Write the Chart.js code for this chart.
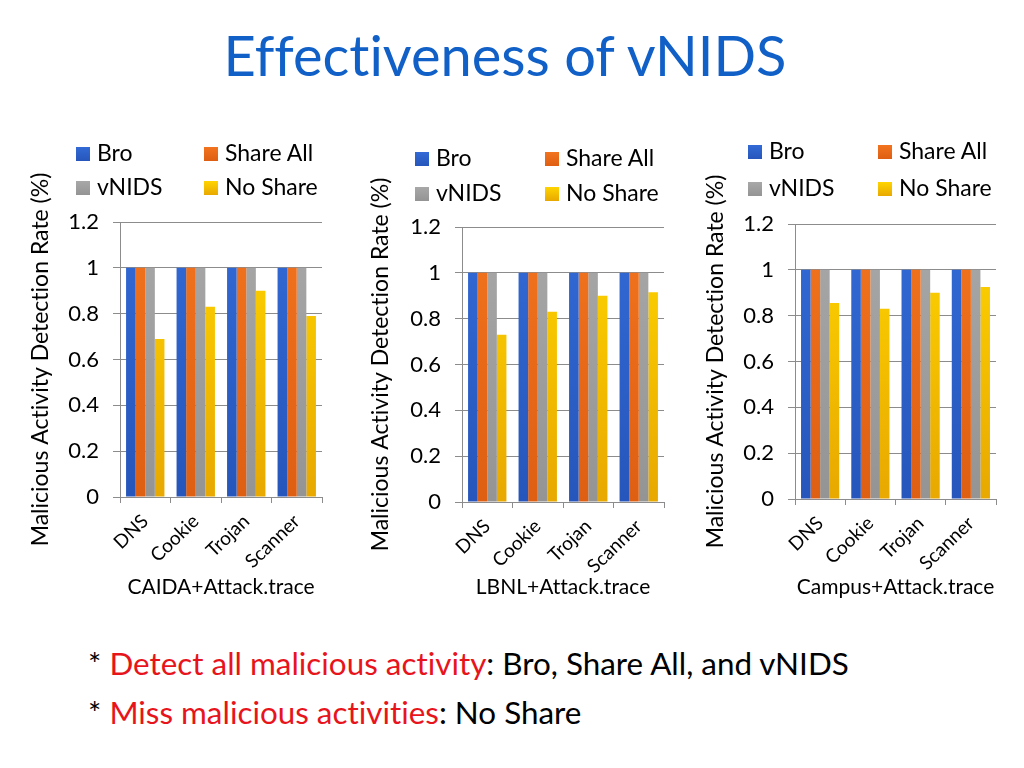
<!DOCTYPE html>
<html>
<head>
<meta charset="utf-8">
<script src="https://cdn.jsdelivr.net/npm/chart.js@4"></script>
<style>
  body { margin: 0; width: 1024px; height: 768px; background: #fff; position: relative; overflow: hidden; font-family: Lato, "Open Sans", sans-serif; font-variant-ligatures: none; }
  .abs { position: absolute; }
  #title { left: 0; width: 1010px; top: 21px; text-align: center; font-size: 56px; color: #1060c8; }
  .leg { position: absolute; font-size: 23px; color: #000; white-space: nowrap; line-height: 26px; }
  .leg i { display: inline-block; width: 14px; height: 14px; margin-right: 7px; vertical-align: 0px; }
  .note { position: absolute; left: 88px; font-size: 31.4px; color: #000; white-space: nowrap; }
  .note span { color: #e8141c; }
</style>
</head>
<body>
<div id="title" class="abs">Effectiveness of vNIDS</div>

<canvas id="c1" class="abs" width="320" height="480" style="left:25px;top:130px"></canvas>
<canvas id="c2" class="abs" width="320" height="480" style="left:365px;top:130px"></canvas>
<canvas id="c3" class="abs" width="320" height="480" style="left:700px;top:130px"></canvas>

<div class="note" style="top:644px">* <span>Detect all malicious activity</span>: Bro, Share All, and vNIDS</div>
<div class="note" style="top:693px">* <span>Miss malicious activities</span>: No Share</div>

<script>
// categories and series
const categories = ['DNS', 'Cookie', 'Trojan', 'Scanner'];
const seriesNames = ['Bro', 'Share All', 'vNIDS', 'No Share'];
const yTicks = [0, 0.2, 0.4, 0.6, 0.8, 1, 1.2];

// CAIDA+Attack.trace
const caidaBro = [1, 1, 1, 1];
const caidaShareAll = [1, 1, 1, 1];
const caidaVnids = [1, 1, 1, 1];
const caidaNoShare = [0.69, 0.83, 0.90, 0.79];

// LBNL+Attack.trace
const lbnlBro = [1, 1, 1, 1];
const lbnlShareAll = [1, 1, 1, 1];
const lbnlVnids = [1, 1, 1, 1];
const lbnlNoShare = [0.73, 0.83, 0.90, 0.915];

// Campus+Attack.trace
const campusBro = [1, 1, 1, 1];
const campusShareAll = [1, 1, 1, 1];
const campusVnids = [1, 1, 1, 1];
const campusNoShare = [0.855, 0.83, 0.90, 0.925];

const colTop = ['#336ad6', '#f2741f', '#a8a8a8', '#ffd500'];
const colBot = ['#2656bb', '#de5f12', '#949494', '#e8a800'];

function fill(i) {
  return function (ctx) {
    const area = ctx.chart.chartArea;
    if (!area) return colTop[i];
    const g = ctx.chart.ctx.createLinearGradient(0, area.top, 0, area.bottom);
    g.addColorStop(0, colTop[i]);
    g.addColorStop(1, colBot[i]);
    return g;
  };
}

const font = 'Lato, "Open Sans", sans-serif';

function makeChart(id, series, xTitle, box) {
  new Chart(document.getElementById(id), {
    type: 'bar',
    data: {
      labels: categories,
      datasets: series.map((d, i) => ({
        label: seriesNames[i],
        data: d,
        backgroundColor: fill(i),
        borderWidth: 0,
        categoryPercentage: 0.76,
        barPercentage: 1.0
      }))
    },
    options: {
      responsive: false,
      animation: false,
      layout: { padding: { top: box.top, right: box.right, left: 0, bottom: 0 } },
      plugins: { legend: { display: false }, tooltip: { enabled: false } },
      scales: {
        x: {
          grid: { drawOnChartArea: false, color: '#8c8c8c', tickLength: 6 },
          border: { color: '#8c8c8c' },
          ticks: { color: '#000', font: { family: font, size: 19 }, minRotation: 44, maxRotation: 44, padding: 7 },
          title: { display: true, text: xTitle, color: '#000', font: { family: font, size: 21 }, padding: { top: 4, bottom: 10 } },
          afterFit: s => { s.height = box.xh; }
        },
        y: {
          min: 0, max: 1.2,
          afterBuildTicks: s => { s.ticks = yTicks.map(v => ({ value: v })); },
          grid: { color: '#8c8c8c', tickLength: 7 },
          border: { color: '#8c8c8c' },
          ticks: { color: '#000', font: { family: font, size: 22 }, padding: 14, callback: v => String(Math.round(v * 10) / 10) },
          title: { display: true, text: 'Malicious Activity Detection Rate (%)', color: '#000', font: { family: font, size: 23 }, padding: { top: 2, bottom: 4 } },
          afterFit: s => { s.width = box.yw; }
        }
      }
    }
  });
}

makeChart('c1', [caidaBro, caidaShareAll, caidaVnids, caidaNoShare], 'CAIDA+Attack.trace',
  { top: 92, right: 23, yw: 95, xh: 113 });
makeChart('c2', [lbnlBro, lbnlShareAll, lbnlVnids, lbnlNoShare], 'LBNL+Attack.trace',
  { top: 97, right: 21, yw: 97, xh: 108 });
makeChart('c3', [campusBro, campusShareAll, campusVnids, campusNoShare], 'Campus+Attack.trace',
  { top: 94, right: 24, yw: 95, xh: 111 });

// legends: two columns, two rows
const legendSpots = [
  { x1: 76, x2: 204, y1: 152, y2: 186 },
  { x1: 415, x2: 545, y1: 157, y2: 192 },
  { x1: 748, x2: 878, y1: 150, y2: 187 }
];
legendSpots.forEach(p => {
  seriesNames.forEach((name, i) => {
    const d = document.createElement('div');
    d.className = 'leg';
    d.style.left = (i % 2 === 0 ? p.x1 : p.x2) + 'px';
    d.style.top = ((i < 2 ? p.y1 : p.y2) - 13) + 'px';
    d.innerHTML = '<i style="background:linear-gradient(' + colTop[i] + ',' + colBot[i] + ')"></i>' + name;
    document.body.appendChild(d);
  });
});
</script>
</body>
</html>
